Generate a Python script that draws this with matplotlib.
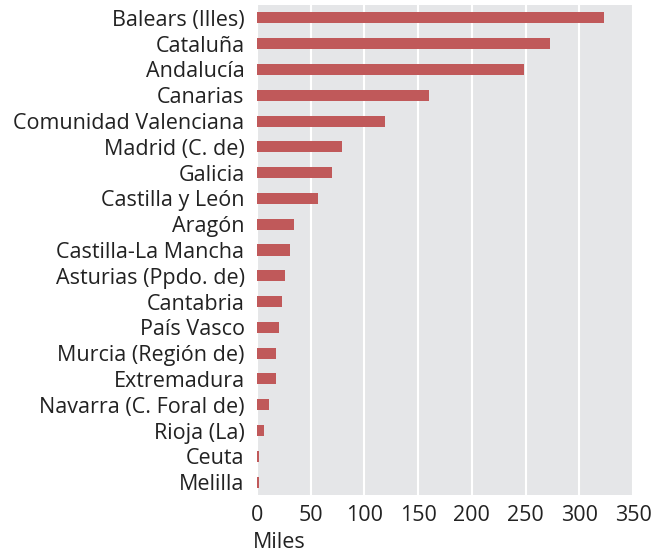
import matplotlib
matplotlib.use("Agg")
import matplotlib.pyplot as plt

regions = ["Balears (Illes)", "Cataluña", "Andalucía", "Canarias", "Comunidad Valenciana",
           "Madrid (C. de)", "Galicia", "Castilla y León", "Aragón", "Castilla-La Mancha",
           "Asturias (Ppdo. de)", "Cantabria", "País Vasco", "Murcia (Región de)",
           "Extremadura", "Navarra (C. Foral de)", "Rioja (La)", "Ceuta", "Melilla"]
values = [323, 273, 249, 160, 119, 79, 70, 57, 34, 31, 26, 23, 20.5, 18, 17.5, 11, 6.5, 2, 2]
xticks = [0, 50, 100, 150, 200, 250, 300, 350]

plt.rcParams['font.family'] = ['Open Sans', 'DejaVu Sans']

fig = plt.figure(figsize=(6.65, 5.53), dpi=100)
ax = fig.add_axes([257/665, 1-495/553, (633-257)/665, (495-5)/553])
ax.set_facecolor("#e5e6e8")
pos = list(range(len(regions)))
ax.barh(pos, values, height=0.43, color="#c0595a", zorder=3)
ax.set_yticks(pos)
ax.set_yticklabels(regions, fontsize=15.5, color="#222222")
ax.set_ylim(len(regions)-0.5, -0.5)
ax.set_xlim(0, 350)
ax.set_xticks(xticks)
ax.set_xticklabels([str(t) for t in xticks], fontsize=15.5, color="#222222")
ax.tick_params(axis="y", length=0, pad=9)
ax.tick_params(axis="x", length=0, pad=7)
ax.grid(axis="x", color="white", linewidth=1.5, zorder=1)
for s in ax.spines.values():
    s.set_visible(False)
ax.set_xlabel("Miles", fontsize=15.5, color="#222222")
ax.xaxis.set_label_coords(-0.012, -0.076)
ax.xaxis.label.set_horizontalalignment("left")
ax.xaxis.label.set_verticalalignment("top")
fig.savefig("out.png", dpi=100)
